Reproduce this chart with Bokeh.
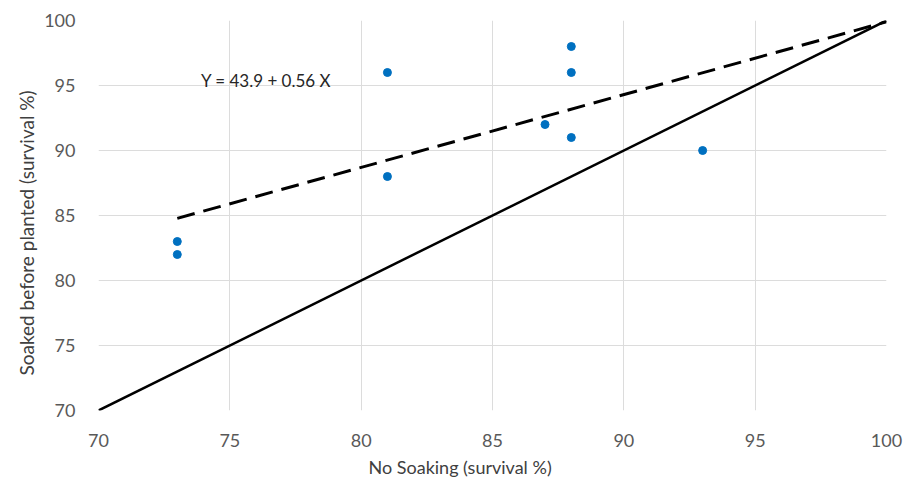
from bokeh.plotting import figure
from bokeh.models import Label, FixedTicker, Range1d, Title
from bokeh.embed import file_html
from bokeh.resources import INLINE

# data
no_soak = [73, 73, 81, 81, 87, 88, 88, 88, 93]
soaked = [83, 82, 96, 88, 92, 98, 96, 91, 90]
fit_x = [73, 100]
intercept, slope = 43.9, 0.56
fit_y = [intercept + slope * v for v in fit_x]
ident = [70, 100]
ticks = [70, 75, 80, 85, 90, 95, 100]
x_title = "No Soaking (survival %)"
y_title = "Soaked before planted (survival %)"
eq_text = "Y = 43.9 + 0.56 X"

p = figure(width=907, height=481, output_backend="svg", toolbar_location=None,
           x_range=Range1d(70, 100), y_range=Range1d(70, 100),
           min_border_left=98, min_border_right=21, min_border_top=20, min_border_bottom=71)
p.outline_line_color = None
p.background_fill_color = "white"

for ax in (p.xaxis[0], p.yaxis[0]):
    ax.ticker = FixedTicker(ticks=ticks)
    ax.axis_line_color = None
    ax.major_tick_line_color = None
    ax.minor_tick_line_color = None
    ax.major_label_text_font = "Lato"
    ax.major_label_text_font_size = "18px"
    ax.major_label_text_color = "#595959"

p.xaxis.major_label_standoff = 17
p.yaxis.major_label_standoff = 17

p.add_layout(Title(text=x_title, align="left", offset=270, text_font="Lato",
                   text_font_size="18px", text_font_style="normal",
                   text_color="#404040", standoff=8), "below")
p.add_layout(Title(text=y_title, align="left", offset=35, text_font="Lato",
                   text_font_size="19px", text_font_style="normal",
                   text_color="#404040", standoff=8), "left")

p.xgrid.ticker = FixedTicker(ticks=ticks)
p.ygrid.ticker = FixedTicker(ticks=ticks)
p.grid.grid_line_color = "#dcdcdc"
p.grid.grid_line_width = 1

p.line(ident, ident, line_color="black", line_width=2.5)
p.line(fit_x, fit_y, line_color="black", line_width=3, line_dash="18 9")
p.scatter(no_soak, soaked, size=8, fill_color="#0070C0", line_color="#0070C0")

p.add_layout(Label(x=73.9, y=95.4, text=eq_text, text_font="Lato",
                   text_font_size="17px", text_color="#262626", text_baseline="middle",
                   text_align="left"))

open("out.html", "w").write(file_html(p, INLINE))
